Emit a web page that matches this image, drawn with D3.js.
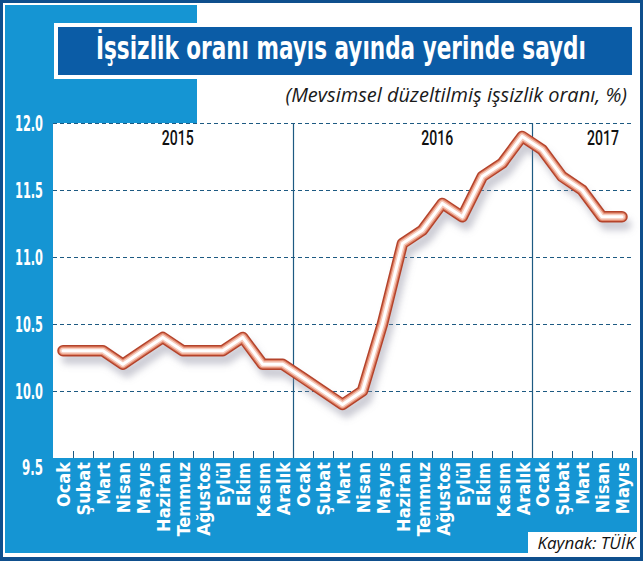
<!DOCTYPE html>
<html>
<head>
<meta charset="utf-8">
<script src="https://cdn.jsdelivr.net/npm/d3@7"></script>
<style>
	body { margin: 0; background: #fff; }
	svg { display: block; }
	.narrow { font-family: "Liberation Sans Narrow", "DejaVu Sans Condensed", sans-serif; }
	.year { font-family: Roboto, "DejaVu Sans", sans-serif; }
	.italic { font-family: "Open Sans", "Noto Sans", sans-serif; font-style: italic; }
</style>
</head>
<body>
<script>
// chart data
const months = ["Ocak", "Şubat", "Mart", "Nisan", "Mayıs", "Haziran", "Temmuz", "Ağustos", "Eylül", "Ekim", "Kasım", "Aralık"];
const years = [2015, 2016, 2017];
const monthsPerYear = [12, 12, 5];
const rates = [
	10.3, 10.3, 10.3, 10.2, 10.3, 10.4, 10.3, 10.3, 10.3, 10.4, 10.2, 10.2,
	10.1, 10.0, 9.9, 10.0, 10.5, 11.1, 11.2, 11.4, 11.3, 11.6, 11.7, 11.9,
	11.8, 11.6, 11.5, 11.3, 11.3
];
const yTicks = [9.5, 10.0, 10.5, 11.0, 11.5, 12.0];
const titleText = "İşsizlik oranı mayıs ayında yerinde saydı";
const subtitleText = "(Mevsimsel düzeltilmiş işsizlik oranı, %)";
const sourceText = "Kaynak: TÜİK";

// one label per month on the axis
const labels = [];
years.forEach((y, i) => {
	for (let m = 0; m < monthsPerYear[i]; m++) labels.push({ month: months[m], year: y });
});

const width = 643, height = 561;
const darkBlue = "#0f4f8d", lightBlue = "#1595d3", barBlue = "#0b5ca6", gridBlue = "#1d5a82";

// squeeze a text horizontally to a given width (font is wider than the original)
function squeeze(sel, ax, ay, w) {
	sel.each(function() {
		const t = d3.select(this);
		const k = Math.min(1, w / this.getComputedTextLength());
		t.attr("transform", "translate(" + ax + "," + ay + ") scale(" + k + ",1)");
	});
}

const svg = d3.select("body").append("svg")
	.attr("width", width)
	.attr("height", height);

// frame
svg.append("rect").attr("width", width).attr("height", height).attr("fill", darkBlue);
svg.append("rect").attr("x", 3).attr("y", 3).attr("width", 637).attr("height", 554).attr("fill", "#fff");
svg.append("rect").attr("x", 5).attr("y", 5).attr("width", 632).attr("height", 548).attr("fill", lightBlue);
svg.append("rect").attr("x", 197).attr("y", 3).attr("width", 443).attr("height", 121).attr("fill", "#fff");

const plot = { left: 53, right: 632, top: 123, bottom: 458 };
svg.append("rect").attr("x", plot.left).attr("y", plot.top)
	.attr("width", 640 - plot.left).attr("height", plot.bottom - plot.top).attr("fill", "#fff");

const x = d3.scaleBand()
	.domain(d3.range(rates.length))
	.range([plot.left, plot.right]);
const y = d3.scaleLinear()
	.domain([9.5, 12])
	.range([plot.bottom, plot.top]);

// title bar
svg.append("rect")
	.attr("x", 56).attr("y", 25).attr("width", 578).attr("height", 52)
	.attr("fill", barBlue).attr("stroke", "#fff").attr("stroke-width", 4);
svg.append("text")
	.attr("class", "narrow")
	.attr("font-size", 32).attr("font-weight", "bold").attr("fill", "#fff")
	.text(titleText)
	.call(squeeze, 96, 59, 490);
svg.append("text")
	.attr("class", "italic")
	.attr("text-anchor", "end")
	.attr("font-size", 20).attr("fill", "#1a1a1a")
	.text(subtitleText)
	.call(squeeze, 627, 102, 397);

// horizontal dashed grid
svg.append("g").selectAll("line")
	.data(yTicks.filter(d => d > 9.5))
	.enter().append("line")
	.attr("x1", plot.left).attr("x2", plot.right)
	.attr("y1", d => y(d) + 0.5).attr("y2", d => y(d) + 0.5)
	.attr("stroke", gridBlue).attr("stroke-width", 1)
	.attr("stroke-dasharray", "4,3");

// year separators
let start = 0;
const yearStarts = monthsPerYear.map(n => { const s = start; start += n; return s; });
svg.append("g").selectAll("line")
	.data(yearStarts.slice(1))
	.enter().append("line")
	.attr("x1", d => Math.round(x(d)) + 0.5).attr("x2", d => Math.round(x(d)) + 0.5)
	.attr("y1", plot.top).attr("y2", plot.bottom)
	.attr("stroke", gridBlue).attr("stroke-width", 1.2);

// month ticks
svg.append("g").selectAll("line")
	.data(d3.range(1, rates.length + 1))
	.enter().append("line")
	.attr("x1", d => Math.round(d === rates.length ? plot.right : x(d)) + 0.5)
	.attr("x2", d => Math.round(d === rates.length ? plot.right : x(d)) + 0.5)
	.attr("y1", plot.bottom - 7).attr("y2", plot.bottom)
	.attr("stroke", gridBlue).attr("stroke-width", 1);

// year labels
const yearLabelPos = [5.75, 18.75, 27.05];
svg.append("g").selectAll("text")
	.data(years)
	.enter().append("text")
	.attr("class", "year")
	.attr("text-anchor", "middle")
	.attr("font-size", 21).attr("font-weight", 500).attr("fill", "#111")
	.text(d => d)
	.each(function(d, i) {
		d3.select(this).call(squeeze, plot.left + x.bandwidth() * (yearLabelPos[i] + 0.5), 145, 32);
	});

// y axis labels
svg.append("g").selectAll("text")
	.data(yTicks)
	.enter().append("text")
	.attr("class", "narrow")
	.attr("dy", "0.35em")
	.attr("text-anchor", "end")
	.attr("font-size", 21).attr("font-weight", "bold").attr("fill", "#fff")
	.text(d => d3.format(".1f")(d))
	.each(function(d) {
		d3.select(this).call(squeeze, 43, y(d) + (d === 9.5 ? 10 : 1), d === 9.5 ? 21 : 28);
	});

// x axis labels
svg.append("g").selectAll("text")
	.data(labels)
	.enter().append("text")
	.attr("class", "narrow")
	.attr("transform", (d, i) => "translate(" + (x(i) + x.bandwidth() / 2 + 1) + "," + 462 + ") rotate(-90)")
	.attr("dy", "0.35em")
	.attr("text-anchor", "end")
	.attr("font-size", 18).attr("font-weight", "bold").attr("fill", "#fff")
	.text(d => d.month);

// line
const line = d3.line()
	.x((d, i) => x(i) + x.bandwidth() / 2)
	.y(d => y(d));

const defs = svg.append("defs");
defs.append("filter").attr("id", "shadow")
	.attr("x", "-10%").attr("y", "-10%").attr("width", "120%").attr("height", "130%")
	.append("feGaussianBlur").attr("stdDeviation", 3.5);

svg.append("path")
	.datum(rates)
	.attr("d", line)
	.attr("transform", "translate(4,8)")
	.attr("fill", "none")
	.attr("stroke", "#8c8ca0").attr("stroke-opacity", 0.45)
	.attr("stroke-width", 11)
	.attr("stroke-linejoin", "round").attr("stroke-linecap", "round")
	.attr("filter", "url(#shadow)");

[["#b4432b", 11.5], ["#e2896e", 8.5], ["#f6cbbd", 6], ["#ffffff", 3]].forEach(s => {
	svg.append("path")
		.datum(rates)
		.attr("d", line)
		.attr("fill", "none")
		.attr("stroke", s[0])
		.attr("stroke-width", s[1])
		.attr("stroke-linejoin", "round").attr("stroke-linecap", "round");
});

// source box
svg.append("rect")
	.attr("x", 528).attr("y", 532).attr("width", 110).attr("height", 22)
	.attr("fill", "#fff");
svg.append("text")
	.attr("class", "italic")
	.attr("x", 635).attr("y", 549)
	.attr("text-anchor", "end")
	.attr("font-size", 17).attr("fill", "#111")
	.text(sourceText);
</script>
</body>
</html>
